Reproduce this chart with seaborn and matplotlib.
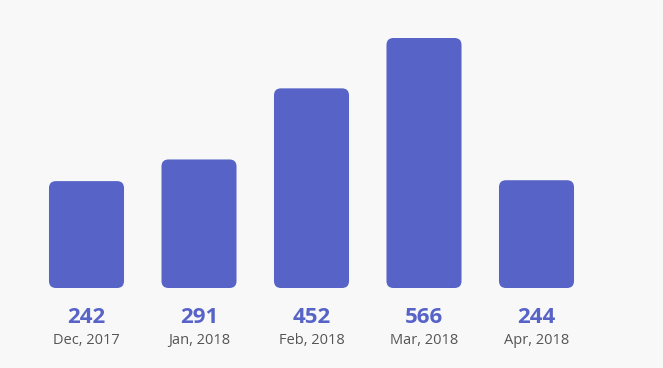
import matplotlib
matplotlib.use("Agg")
import matplotlib.pyplot as plt
import seaborn as sns
import pandas as pd
from matplotlib.patches import FancyBboxPatch

categories = ["Dec, 2017", "Jan, 2018", "Feb, 2018", "Mar, 2018", "Apr, 2018"]
values = [242, 291, 452, 566, 244]

bar_color = "#5763c7"
bg = "#f8f8f8"

sns.set_theme(style="white")
plt.rcParams["font.family"] = ["Open Sans", "DejaVu Sans"]

fig = plt.figure(figsize=(6.63, 3.68), dpi=100, facecolor=bg)
ax = fig.add_axes([0, 80 / 368, 1, 288 / 368])
ax.set_facecolor(bg)

df = pd.DataFrame({"month": categories, "value": values})
sns.barplot(data=df, x="month", y="value", color=bar_color, saturation=1,
            width=0.667, ax=ax)

px_per_x = 112.5
ymax = 566 * 288 / 250
px_per_y = 288 / ymax
ax.set_xlim(-86.5 / px_per_x, (663 - 86.5) / px_per_x)
ax.set_ylim(0, ymax)

r = 7 / px_per_x
aspect = px_per_x / px_per_y
for p in list(ax.patches):
    x, y = p.get_x(), p.get_y()
    w, h = p.get_width(), p.get_height()
    p.remove()
    fb = FancyBboxPatch((x, y), w, h,
                        boxstyle=f"round,pad=0,rounding_size={r}",
                        mutation_aspect=aspect, facecolor=bar_color,
                        edgecolor="none")
    ax.add_patch(fb)

for i, (c, v) in enumerate(zip(categories, values)):
    ax.text(i, -(323 - 288) / px_per_y, str(v), ha="center", va="baseline",
            fontsize=16, fontweight="bold", color=bar_color, clip_on=False)
    ax.text(i, -(344 - 288) / px_per_y, c, ha="center", va="baseline",
            fontsize=10.5, color="#555555", clip_on=False)

ax.set_xlabel("")
ax.set_ylabel("")
ax.set_xticks([])
ax.set_yticks([])
for s in ax.spines.values():
    s.set_visible(False)

fig.savefig("out.png", dpi=100, facecolor=bg)
